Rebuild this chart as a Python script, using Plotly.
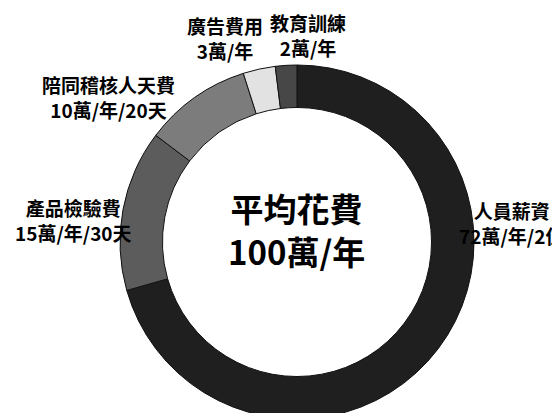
import plotly.graph_objects as go

categories = ["人員薪資", "產品檢驗費", "陪同稽核人天費", "廣告費用", "教育訓練"]
values = [72, 15, 10, 3, 2]
value_labels = ["72萬/年/2位", "15萬/年/30天", "10萬/年/20天", "3萬/年", "2萬/年"]
center_title = "平均花費"
center_value = "100萬/年"

colors = ["#1f1f1f", "#5c5c5c", "#7c7c7c", "#e2e2e2", "#474747"]

W, H = 560, 413
cx, cy, r = 289, 234, 177

fig = go.Figure(go.Pie(
    labels=categories,
    values=values,
    sort=False,
    direction="clockwise",
    rotation=0,
    hole=0.76,
    textinfo="none",
    hoverinfo="label+value",
    marker=dict(colors=colors, line=dict(color="#111111", width=1)),
    domain=dict(x=[(cx - r) / W, (cx + r) / W], y=[1 - (cy + r) / H, 1 - (cy - r) / H]),
    showlegend=False,
))

FONT = "Noto Sans CJK TC"
# label anchor positions in pixels (center x, center y)
label_pos = {
    "人員薪資": (503, 215),
    "產品檢驗費": (65, 212),
    "陪同稽核人天費": (100, 89),
    "廣告費用": (217, 30),
    "教育訓練": (300, 27),
}

annotations = []
for cat, vl in zip(categories, value_labels):
    px, py = label_pos[cat]
    annotations.append(dict(
        x=px / W, y=1 - py / H, xref="paper", yref="paper",
        xanchor="center", yanchor="middle", showarrow=False,
        text=f"<b>{cat}</b><br><b>{vl}</b>", align="center",
        font=dict(family=FONT, size=19, color="#000000"),
        borderpad=0,
    ))

annotations.append(dict(
    x=288 / W, y=1 - 221 / H, xref="paper", yref="paper",
    xanchor="center", yanchor="middle", showarrow=False,
    text=f"<b>{center_title}</b><br><b>{center_value}</b>", align="center",
    font=dict(family=FONT, size=33, color="#000000"),
))

fig.update_layout(
    width=W, height=H,
    margin=dict(l=0, r=0, t=0, b=0),
    paper_bgcolor="white", plot_bgcolor="white",
    annotations=annotations,
)

fig.write_html("out.html")
